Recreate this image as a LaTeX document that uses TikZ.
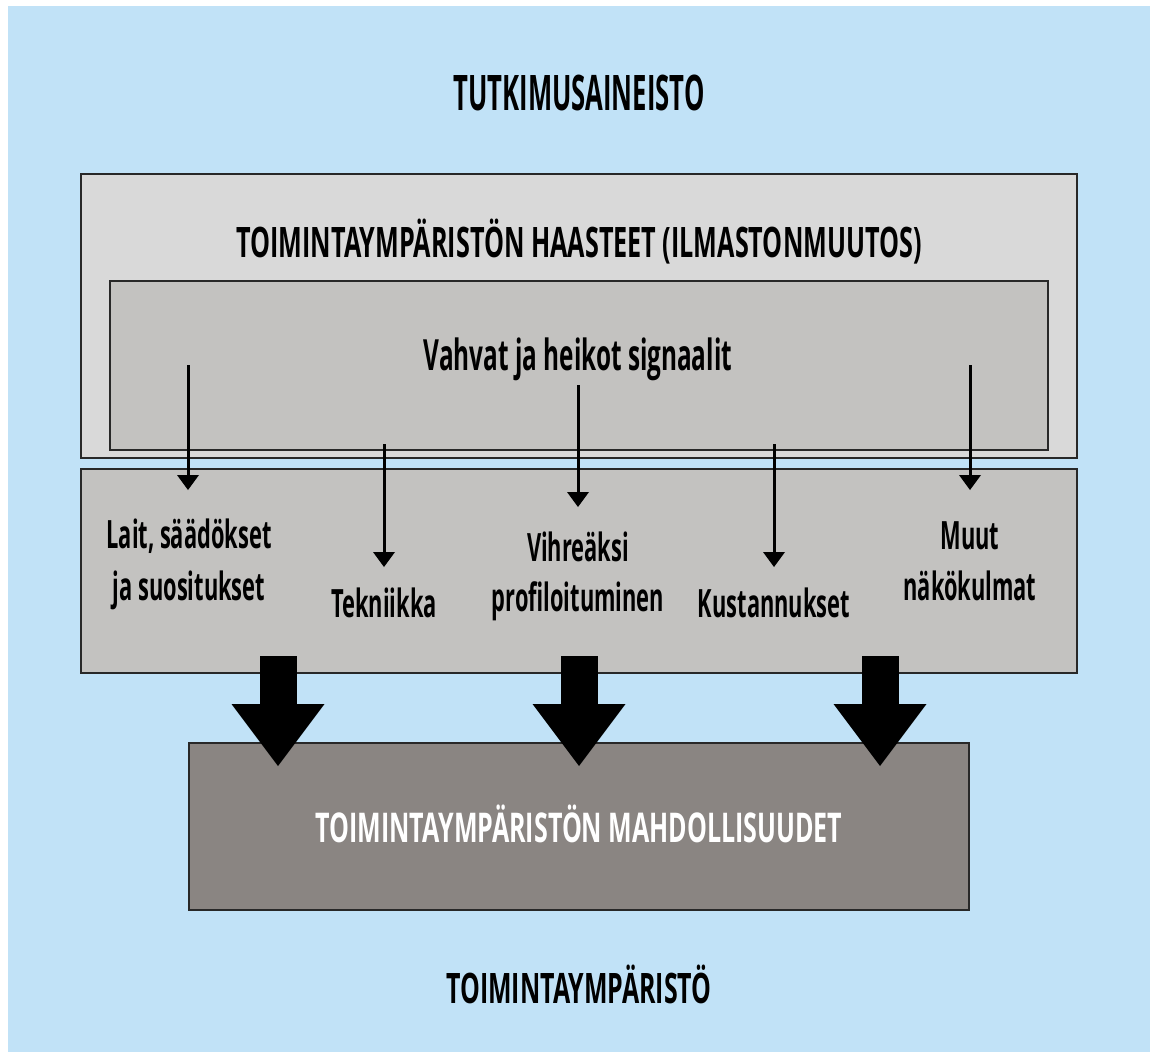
\documentclass[tikz,border=0pt]{standalone}
\usepackage{fontspec}
\setmainfont{Open Sans}
\newfontfamily\cf[FakeStretch=0.56]{Open Sans}
\usetikzlibrary{arrows.meta}
\definecolor{bgblue}{RGB}{193,226,247}
\definecolor{boxlight}{RGB}{217,217,217}
\definecolor{boxmid}{RGB}{195,194,192}
\definecolor{boxdark}{RGB}{138,133,130}
\definecolor{edge}{RGB}{40,40,40}
\newcommand\myfs[2]{\fontsize{#1}{#2}\selectfont}
\newcommand\wx[2]{\scalebox{#1}[1]{#2}}
\tikzset{
  panel/.style={draw=edge, line width=2pt, inner sep=0pt, outer sep=0pt, anchor=north west},
  lbl/.style={font=\cf\bfseries, inner sep=0pt, text=black},
  thin/.style={line width=3pt, -{Triangle[width=22pt,length=15pt,line width=0pt]}},
  big/.style={line width=37pt, -{Triangle[width=93pt,length=62pt,line width=0pt]}}
}
\begin{document}
\begin{tikzpicture}[x=1pt,y=-1pt]
\fill[white] (0,0) rectangle (1150,1052);
\fill[bgblue] (8,6) rectangle (1150,1052);
\useasboundingbox (0,0) rectangle (1150,1052);

\node[lbl, font=\cf\bfseries\myfs{49}{56}, anchor=base] (title) at (579,110) {\wx{0.935}{TUTKIMUSAINEISTO}};

\node[panel, fill=boxlight, minimum width=996pt, minimum height=284pt] (b1) at (81,174) {};
\node[lbl, font=\cf\bfseries\myfs{42}{50}, anchor=base] (t1) at (579,257) {\wx{1.07}{TOIMINTAYMPÄRISTÖN HAASTEET (ILMASTONMUUTOS)}};
\node[panel, fill=boxmid, minimum width=938pt, minimum height=169pt] (b1i) at (110,281) {};
\node[lbl, font=\cf\bfseries\myfs{43}{50}, anchor=base] (t2) at (578,370) {\wx{1.01}{Vahvat ja heikot signaalit}};

\node[panel, fill=boxmid, minimum width=996pt, minimum height=204pt] (b2) at (81,469) {};
\node[panel, fill=boxdark, minimum width=780pt, minimum height=167pt] (b3) at (189,743) {};
\node[lbl, font=\cf\bfseries\myfs{41}{50}, anchor=base, text=white] (t3) at (579,842) {\wx{1.09}{TOIMINTAYMPÄRISTÖN MAHDOLLISUUDET}};

\node[lbl, font=\cf\bfseries\myfs{42}{50}, anchor=base] (t4) at (579,1003) {\wx{1.06}{TOIMINTAYMPÄRISTÖ}};

\node[lbl, font=\cf\bfseries\myfs{39}{52}, align=center] (l1) at (189,564) {Lait, säädökset\\ja suositukset};
\node[lbl, font=\cf\bfseries\myfs{39}{52}, anchor=base] (l2) at (384,617) {Tekniikka};
\node[lbl, font=\cf\bfseries\myfs{39}{50}, align=center] (l3) at (578,576) {Vihreäksi\\profiloituminen};
\node[lbl, font=\cf\bfseries\myfs{39}{52}, anchor=base] (l4) at (774,617) {Kustannukset};
\node[lbl, font=\cf\bfseries\myfs{39}{51}, align=center] (l5) at (970,561) {Muut\\näkökulmat};

\coordinate (s1) at (188,365); \coordinate (e1) at (188,490);
\coordinate (s2) at (384,444); \coordinate (e2) at (384,567);
\coordinate (s3) at (578,385); \coordinate (e3) at (578,507);
\coordinate (s4) at (774,444); \coordinate (e4) at (774,567);
\coordinate (s5) at (970,365); \coordinate (e5) at (970,490);
\foreach \i in {1,...,5} {\draw[thin] (s\i) -- (e\i);}

\coordinate (bs1) at (278,656); \coordinate (be1) at (278,766);
\coordinate (bs2) at (579,656); \coordinate (be2) at (579,766);
\coordinate (bs3) at (880,656); \coordinate (be3) at (880,766);
\foreach \i in {1,2,3} {\draw[big] (bs\i) -- (be\i);}
\end{tikzpicture}
\end{document}
